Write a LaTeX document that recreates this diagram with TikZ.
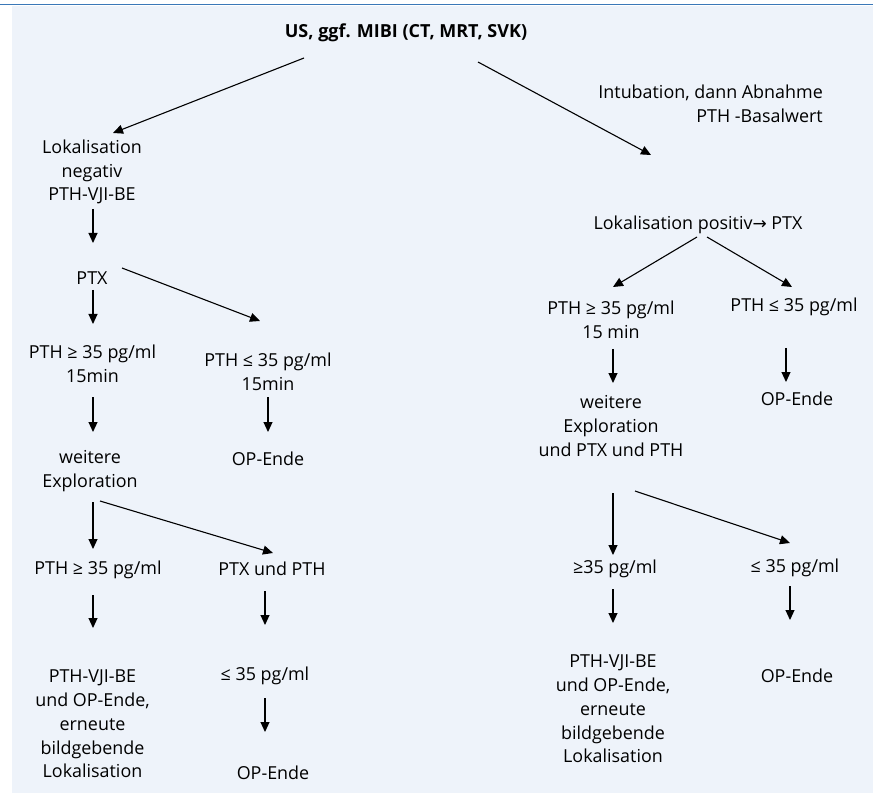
\documentclass[tikz,border=0pt]{standalone}
\usepackage{fontspec}
\setmainfont{Open Sans}
\newfontfamily\symfont{DejaVu Sans}
\usetikzlibrary{arrows.meta}
\definecolor{panelbg}{HTML}{EEF3FA}
\definecolor{topline}{HTML}{3A78B8}
\tikzset{
  lbl/.style={inner sep=0pt, align=center, font=\fontsize{17.9}{23.8}\selectfont},
  arr/.style={line width=1.1pt, -{Triangle[length=10pt,width=9pt]}}
}
\begin{document}
\begin{tikzpicture}[x=1pt,y=-1pt]
\useasboundingbox (0,0) rectangle (873,794);
\fill[panelbg] (12,6) rectangle (873,793);
\fill[topline] (0,3.6) rectangle (873,5.4);
% nodes
\node[lbl, font=\fontsize{18}{24}\selectfont\bfseries] (title) at (406,33) {US, ggf. MIBI (CT, MRT, SVK)};
\node[lbl, align=right, anchor=east] (intub) at (823,103.5) {Intubation, dann Abnahme\\PTH -Basalwert};
\node[lbl] (lneg) at (92,172) {Lokalisation\\negativ\\PTH-VJI-BE};
\node[lbl] (ptx) at (92,278) {PTX};
\node[lbl] (lge) at (92.5,364) {PTH ≥ 35 pg/ml\\15min};
\node[lbl] (lle) at (268,372) {PTH ≤ 35 pg/ml\\15min};
\node[lbl] (lweit) at (90,471) {weitere\\Exploration};
\node[lbl] (lopa) at (268,459) {OP-Ende};
\node[lbl] (lgeb) at (98,570) {PTH ≥ 35 pg/ml};
\node[lbl] (lptxpth) at (272,569) {PTX und PTH};
\node[lbl] (lvji) at (92.5,724) {PTH-VJI-BE\\und OP-Ende,\\erneute\\bildgebende\\Lokalisation};
\node[lbl] (lleb) at (265,676) {≤ 35 pg/ml};
\node[lbl] (lopb) at (273,773) {OP-Ende};
\node[lbl] (rpos) at (698,225) {Lokalisation positiv{\symfont\fontsize{17}{24}\selectfont→} PTX};
\node[lbl] (rge) at (611,320) {PTH ≥ 35 pg/ml\\15 min};
\node[lbl] (rle) at (794,307) {PTH ≤ 35 pg/ml};
\node[lbl] (ropa) at (797,399) {OP-Ende};
\node[lbl] (rweit) at (611,426) {weitere\\Exploration\\und PTX und PTH};
\node[lbl] (rgeb) at (615,569) {≥35 pg/ml};
\node[lbl] (rleb) at (795,568) {≤ 35 pg/ml};
\node[lbl] (rvji) at (613,709) {PTH-VJI-BE\\und OP-Ende,\\erneute\\bildgebende\\Lokalisation};
\node[lbl] (ropb) at (797,676) {OP-Ende};
% arrow end points
\coordinate (a1s) at (304,58);  \coordinate (a1e) at (113,133);
\coordinate (a2s) at (478,62);  \coordinate (a2e) at (651,155);
\coordinate (a3s) at (93,209);  \coordinate (a3e) at (93,243);
\coordinate (a4s) at (122,268); \coordinate (a4e) at (260,321);
\coordinate (a5s) at (93,290);  \coordinate (a5e) at (93,324);
\coordinate (a6s) at (93,397);  \coordinate (a6e) at (93,432);
\coordinate (a7s) at (268,397); \coordinate (a7e) at (268,432);
\coordinate (a8s) at (93,502);  \coordinate (a8e) at (93,549);
\coordinate (a9s) at (100,501); \coordinate (a9e) at (273,553);
\coordinate (a10s) at (93,595); \coordinate (a10e) at (93,628);
\coordinate (a11s) at (265,591); \coordinate (a11e) at (265,625);
\coordinate (a12s) at (265,698); \coordinate (a12e) at (265,732);
\coordinate (a13s) at (697,237); \coordinate (a13e) at (613,287);
\coordinate (a14s) at (707,237); \coordinate (a14e) at (792,287);
\coordinate (a15s) at (613,349); \coordinate (a15e) at (613,383);
\coordinate (a16s) at (786,348); \coordinate (a16e) at (786,382);
\coordinate (a17s) at (613,493); \coordinate (a17e) at (613,555);
\coordinate (a18s) at (635,491); \coordinate (a18e) at (790,543);
\coordinate (a19s) at (613,589); \coordinate (a19e) at (613,623);
\coordinate (a20s) at (790,586); \coordinate (a20e) at (790,620);
\foreach \i in {1,...,20} {\draw[arr] (a\i s) -- (a\i e);}
\end{tikzpicture}
\end{document}
